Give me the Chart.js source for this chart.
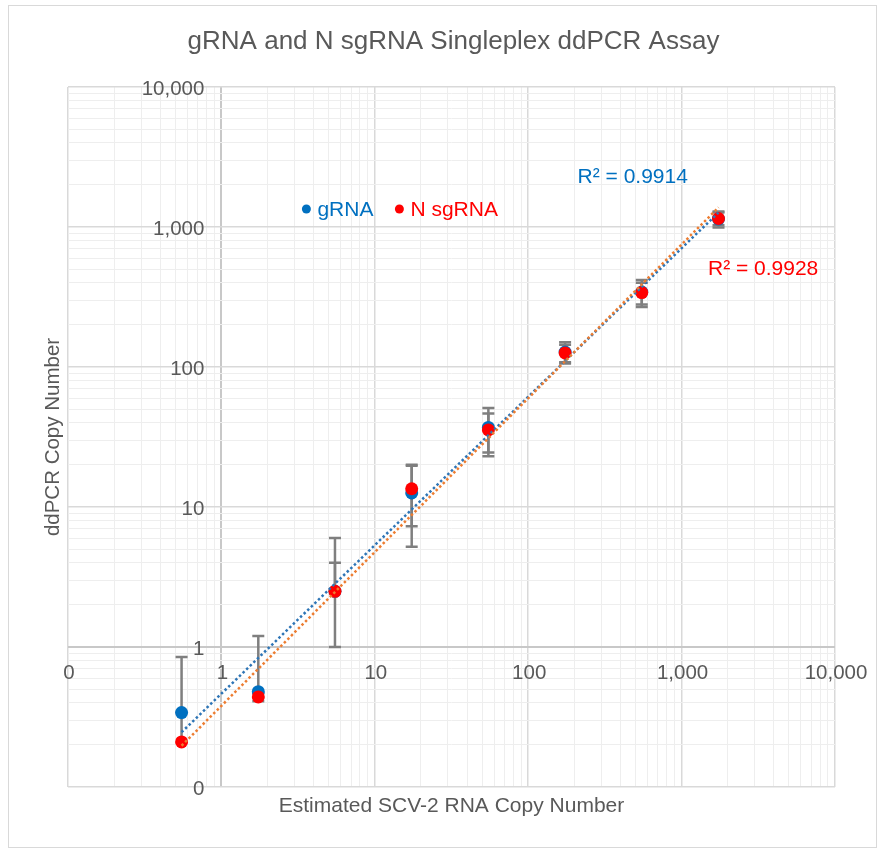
<!DOCTYPE html>
<html>
<head>
<meta charset="utf-8">
<script src="https://cdn.jsdelivr.net/npm/chart.js@4.4.1/dist/chart.umd.min.js"></script>
<style>
  html, body { margin: 0; padding: 0; background: #fff; }
</style>
</head>
<body>
<canvas id="chart" width="883" height="850"></canvas>
<script>
// Data
const copyNumber = [0.55, 1.74, 5.5, 17.4, 55, 174, 550, 1740];
const gRNA = [0.34, 0.48, 2.5, 12.6, 37, 128, 343, 1140];
const gRNAErr = [0.51, 0.72, 3.5, 7.4, 14, 22, 75, 150];
const nSgRNA = [0.21, 0.44, 2.5, 13.5, 35.5, 126, 340, 1150];
const nSgRNAErr = [0.13, 0.03, 1.5, 6.2, 11, 18, 60, 120];

const seriesNames = ['gRNA', 'N sgRNA'];
const r2Labels = ['R\u00b2 = 0.9914', 'R\u00b2 = 0.9928'];
const chartTitle = 'gRNA and N sgRNA Singleplex ddPCR Assay';

const tickValues = [0.1, 1, 10, 100, 1000, 10000];
const tickLabels = ['0', '1', '10', '100', '1,000', '10,000'];

const TEXT = '#595959';
const FONT = "'Liberation Sans', Arial, sans-serif";
Chart.defaults.font.family = FONT;

function isDecade(v) {
  const l = Math.log10(v);
  return Math.abs(l - Math.round(l)) < 1e-9;
}

// power trendline (least squares in log-log space), like Excel's
function powerFit(xs, ys) {
  const lx = xs.map(Math.log10), ly = ys.map(Math.log10);
  const n = lx.length;
  const mx = lx.reduce((a, b) => a + b) / n;
  const my = ly.reduce((a, b) => a + b) / n;
  let sxy = 0, sxx = 0;
  for (let i = 0; i < n; i++) {
    sxy += (lx[i] - mx) * (ly[i] - my);
    sxx += (lx[i] - mx) * (lx[i] - mx);
  }
  const b = sxy / sxx, a = my - b * mx;
  return [xs[0], xs[n - 1]].map(x => ({ x: x, y: Math.pow(10, a + b * Math.log10(x)) }));
}

const toPoints = (xs, ys) => xs.map((x, i) => ({ x: x, y: ys[i] }));

// keep only 1..9 x 10^k ticks (chart.js log scale also adds 1.5 x 10^k)
function cleanTicks(scale) {
  scale.ticks = scale.ticks.filter(t => {
    const m = t.value / Math.pow(10, Math.floor(Math.log10(t.value) + 1e-9));
    return Math.abs(m - Math.round(m)) < 1e-6;
  });
}

const gridOpts = {
  color: c => (c.tick && isDecade(c.tick.value)) ? (c.tick.value === 1 ? '#c8c8c8' : '#d9d9d9') : '#eeeeee',
  lineWidth: c => (c.tick && isDecade(c.tick.value)) ? (c.tick.value === 1 ? 2 : 1.5) : 1,
  drawTicks: false
};

// error bars, drawn under the markers
const errorBars = {
  id: 'errorBars',
  beforeDatasetsDraw(chart) {
    const ctx = chart.ctx, xs = chart.scales.x, ys = chart.scales.y, area = chart.chartArea;
    const sets = [[gRNA, gRNAErr], [nSgRNA, nSgRNAErr]];
    ctx.save();
    ctx.beginPath();
    ctx.rect(area.left, area.top, area.right - area.left, area.bottom - area.top);
    ctx.clip();
    ctx.strokeStyle = '#7f7f7f';
    ctx.lineWidth = 2.5;
    sets.forEach(([vals, errs]) => {
      vals.forEach((v, i) => {
        const px = xs.getPixelForValue(copyNumber[i]);
        const py = ys.getPixelForValue(v);
        const ends = [v + errs[i]];
        // lower bar only when it ends inside the log axis
        if (v - errs[i] >= ys.min) ends.push(v - errs[i]);
        ends.forEach(e => {
          const ey = ys.getPixelForValue(e);
          ctx.beginPath();
          ctx.moveTo(px, py);
          ctx.lineTo(px, ey);
          ctx.moveTo(px - 6, ey);
          ctx.lineTo(px + 6, ey);
          ctx.stroke();
        });
      });
    });
    ctx.restore();
  }
};

// title, tick labels at the axis crossing, R² texts, legend and outer frame
const extras = {
  id: 'extras',
  beforeDraw(chart) {
    const ctx = chart.ctx;
    ctx.save();
    ctx.strokeStyle = '#d9d9d9';
    ctx.lineWidth = 1;
    ctx.strokeRect(8.5, 5.5, 868, 842);
    ctx.restore();
  },
  afterDraw(chart) {
    const ctx = chart.ctx, xs = chart.scales.x, ys = chart.scales.y, area = chart.chartArea;
    ctx.save();

    // chart title, centred over the plot area
    ctx.fillStyle = TEXT;
    ctx.font = '26px ' + FONT;
    ctx.textAlign = 'center';
    ctx.textBaseline = 'middle';
    ctx.fillText(chartTitle, (area.left + area.right) / 2 + 2, 42);

    ctx.font = '20.5px ' + FONT;

    // y labels next to the x = 1 line
    const yAxisX = xs.getPixelForValue(1);
    ctx.textAlign = 'right';
    tickValues.forEach((v, i) => ctx.fillText(tickLabels[i], yAxisX - 17, ys.getPixelForValue(v) + 2));

    // x labels under the y = 1 line
    const xAxisY = ys.getPixelForValue(1);
    ctx.textAlign = 'center';
    tickValues.forEach((v, i) => ctx.fillText(tickLabels[i], xs.getPixelForValue(v) + 1, xAxisY + 26));

    // R² labels
    ctx.font = '21px ' + FONT;
    ctx.fillStyle = '#0070C0';
    ctx.fillText(r2Labels[0], xs.getPixelForValue(480), ys.getPixelForValue(2280));
    ctx.fillStyle = '#FF0000';
    ctx.fillText(r2Labels[1], xs.getPixelForValue(3400), ys.getPixelForValue(500));

    // legend
    const ly = ys.getPixelForValue(1000) - 18;
    const colors = ['#0070C0', '#FF0000'];
    const lx = [xs.getPixelForValue(1) + 85, xs.getPixelForValue(1) + 178];
    ctx.textAlign = 'left';
    seriesNames.forEach((name, i) => {
      ctx.fillStyle = colors[i];
      ctx.beginPath();
      ctx.arc(lx[i], ly, 4.5, 0, Math.PI * 2);
      ctx.fill();
      ctx.fillText(name, lx[i] + 11, ly + 1);
    });
    ctx.restore();
  }
};

new Chart(document.getElementById('chart'), {
  type: 'scatter',
  data: {
    datasets: [
      {
        label: seriesNames[0],
        data: toPoints(copyNumber, gRNA),
        backgroundColor: '#0070C0',
        borderWidth: 0,
        pointRadius: 6.5,
        order: 3
      },
      {
        label: seriesNames[1],
        data: toPoints(copyNumber, nSgRNA),
        backgroundColor: '#FF0000',
        borderWidth: 0,
        pointRadius: 6.5,
        order: 2
      },
      {
        label: 'gRNA trend',
        data: powerFit(copyNumber, gRNA),
        showLine: true,
        borderColor: '#2E75B6',
        borderWidth: 2.5,
        borderDash: [2.5, 2.5],
        pointRadius: 0,
        order: 1
      },
      {
        label: 'N sgRNA trend',
        data: powerFit(copyNumber, nSgRNA),
        showLine: true,
        borderColor: '#ED7D31',
        borderWidth: 2.5,
        borderDash: [2.5, 2.5],
        pointRadius: 0,
        order: 0
      }
    ]
  },
  options: {
    responsive: false,
    animation: false,
    events: [],
    layout: { padding: { left: 0, right: 48, top: 87, bottom: 0 } },
    plugins: {
      legend: { display: false },
      tooltip: { enabled: false },
      title: { display: false }
    },
    scales: {
      x: {
        type: 'logarithmic',
        position: 'bottom',
        min: 0.1,
        max: 10000,
        afterBuildTicks: cleanTicks,
        afterFit: s => { s.height = 63; },
        ticks: { display: false, autoSkip: false },
        grid: gridOpts,
        border: { display: false },
        title: {
          display: true,
          text: 'Estimated SCV-2 RNA Copy Number',
          color: TEXT,
          font: { size: 21 },
          padding: { top: 0, bottom: 31.4 }
        }
      },
      y: {
        type: 'logarithmic',
        position: 'left',
        min: 0.1,
        max: 10000,
        afterBuildTicks: cleanTicks,
        afterFit: s => { s.width = 68; },
        ticks: { display: false, autoSkip: false },
        grid: gridOpts,
        border: { display: false },
        title: {
          display: true,
          text: 'ddPCR Copy Number',
          color: TEXT,
          font: { size: 20.5 },
          padding: { top: 41.2, bottom: 0 }
        }
      }
    }
  },
  plugins: [errorBars, extras]
});
</script>
</body>
</html>
